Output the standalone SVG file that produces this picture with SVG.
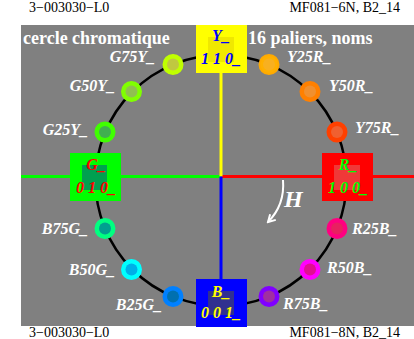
<svg xmlns="http://www.w3.org/2000/svg" width="414" height="339" viewBox="0 0 414 339">
<style>
.hdr{font-family:"Liberation Serif",serif;font-size:14px;fill:#000}
.ttl{font-family:"Liberation Serif",serif;font-size:18px;font-weight:bold;fill:#fff}
.lbl{font-family:"Liberation Serif",serif;font-size:16px;font-weight:bold;font-style:italic;fill:#fff}
.bx{font-family:"Liberation Serif",serif;font-size:16px;font-weight:bold;font-style:italic;text-anchor:middle}
</style>
<defs>
<marker id="ah" viewBox="0 0 10 10" refX="8" refY="5" markerWidth="5" markerHeight="5" orient="auto">
<path d="M1,1 L8,5 L1,9" fill="none" stroke="#fff" stroke-width="2"/>
</marker>
</defs>
<rect width="414" height="339" fill="#fff"/>
<rect x="21" y="25" width="393" height="301" fill="#808080"/>
<text class="hdr" x="29" y="12">3−003030−L0</text>
<text class="hdr" x="400" y="12" text-anchor="end">MF081−6N, B2_14</text>
<text class="hdr" x="29" y="337">3−003030−L0</text>
<text class="hdr" x="400" y="337" text-anchor="end">MF081−8N, B2_14</text>
<text class="ttl" x="23" y="44">cercle chromatique</text>
<text class="ttl" x="248" y="44">16 paliers, noms</text>
<g id="connectors">
<line x1="21" y1="176.5" x2="221" y2="176.5" stroke="#00ff00" stroke-width="3"/>
<line x1="221" y1="176.5" x2="414" y2="176.5" stroke="#ff0000" stroke-width="3"/>
<line x1="221" y1="25" x2="221" y2="176.5" stroke="#ffff00" stroke-width="3"/>
<line x1="221" y1="176.5" x2="221" y2="326" stroke="#0000ff" stroke-width="3"/>
<circle cx="221" cy="180.5" r="125.5" fill="none" stroke="#000" stroke-width="2.5"/>
<path d="M283,180 Q285,205 268,222" fill="none" stroke="#fff" stroke-width="2" marker-end="url(#ah)"/>
<text x="284" y="207" font-family="Liberation Serif,serif" font-size="24" font-weight="bold" font-style="italic" fill="#fff">H</text>
</g>
<g id="Y25R"><circle cx="269" cy="64.5" r="9.5" fill="#ffb000" stroke="#ffaa00" stroke-width="2"/><circle cx="269" cy="64.5" r="6" fill="#f8b020"/><text class="lbl" x="287" y="62">Y25R_</text></g>
<g id="Y50R"><circle cx="310" cy="91.5" r="9.5" fill="#ff8000" stroke="#ff8000" stroke-width="2"/><circle cx="310" cy="91.5" r="6" fill="#f09030"/><text class="lbl" x="329" y="91">Y50R_</text></g>
<g id="Y75R"><circle cx="337" cy="132" r="9.5" fill="#ff4000" stroke="#ff4000" stroke-width="2"/><circle cx="337" cy="132" r="6" fill="#f06030"/><text class="lbl" x="355" y="133">Y75R_</text></g>
<g id="R25B"><circle cx="337" cy="228.5" r="9.5" fill="#ff0080" stroke="#ff0080" stroke-width="2"/><circle cx="337" cy="228.5" r="6" fill="#e82060"/><text class="lbl" x="352" y="234">R25B_</text></g>
<g id="R50B"><circle cx="310" cy="269.5" r="9.5" fill="#ff00ff" stroke="#ff00ff" stroke-width="2"/><circle cx="310" cy="269.5" r="6" fill="#e01090"/><text class="lbl" x="327" y="273">R50B_</text></g>
<g id="R75B"><circle cx="269" cy="296.5" r="9.5" fill="#8000ff" stroke="#8000ff" stroke-width="2"/><circle cx="269" cy="296.5" r="6" fill="#a030a0"/><text class="lbl" x="283" y="309">R75B_</text></g>
<g id="B25G"><circle cx="173" cy="296.5" r="9.5" fill="#0080ff" stroke="#0080ff" stroke-width="2"/><circle cx="173" cy="296.5" r="6" fill="#0070b0"/><text class="lbl" x="162" y="310" text-anchor="end">B25G_</text></g>
<g id="B50G"><circle cx="131.5" cy="269.5" r="9.5" fill="#00ffff" stroke="#00ffff" stroke-width="2"/><circle cx="131.5" cy="269.5" r="6" fill="#00b0e8"/><text class="lbl" x="115" y="275" text-anchor="end">B50G_</text></g>
<g id="B75G"><circle cx="105" cy="228.5" r="9.5" fill="#00ff80" stroke="#00ff80" stroke-width="2"/><circle cx="105" cy="228.5" r="6" fill="#00a090"/><text class="lbl" x="88" y="234" text-anchor="end">B75G_</text></g>
<g id="G25Y"><circle cx="105" cy="132" r="9.5" fill="#40ff00" stroke="#40ff00" stroke-width="2"/><circle cx="105" cy="132" r="6" fill="#40b050"/><text class="lbl" x="88" y="135" text-anchor="end">G25Y_</text></g>
<g id="G50Y"><circle cx="131.5" cy="91.5" r="9.5" fill="#80ff00" stroke="#80ff00" stroke-width="2"/><circle cx="131.5" cy="91.5" r="6" fill="#90c050"/><text class="lbl" x="115" y="91" text-anchor="end">G50Y_</text></g>
<g id="G75Y"><circle cx="173" cy="64.5" r="9.5" fill="#c0ff00" stroke="#c0ff00" stroke-width="2"/><circle cx="173" cy="64.5" r="6" fill="#c0c840"/><text class="lbl" x="155" y="62" text-anchor="end">G75Y_</text></g>
<g id="Y"><rect x="196" y="25" width="51" height="48" fill="#ffff00"/><rect x="208" y="37" width="26" height="25" fill="#f0e800"/><text class="bx" x="221" y="41" fill="#0000ff">Y_</text><text class="bx" x="221" y="64" fill="#0000ff">1 1 0_</text></g>
<g id="G"><rect x="70" y="153" width="51" height="48" fill="#00ff00"/><rect x="82" y="165" width="25" height="25" fill="#00a050"/><text class="bx" x="96" y="170" fill="#ff0000">G_</text><text class="bx" x="96" y="193" fill="#ff0000">0 1 0_</text></g>
<g id="R"><rect x="322" y="153" width="51" height="48" fill="#ff0000"/><rect x="334" y="165" width="26" height="25" fill="#f03838"/><text class="bx" x="348" y="170" fill="#00ff00">R_</text><text class="bx" x="348" y="193" fill="#00ff00">1 0 0_</text></g>
<g id="B"><rect x="196" y="279" width="51" height="48" fill="#0000ff"/><rect x="208" y="291" width="26" height="24" fill="#303090"/><text class="bx" x="221" y="297" fill="#ffff00">B_</text><text class="bx" x="221" y="318" fill="#ffff00">0 0 1_</text></g>
</svg>
